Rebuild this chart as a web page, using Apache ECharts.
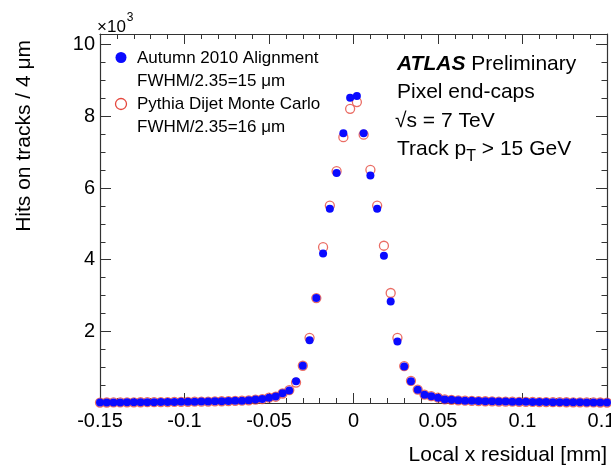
<!DOCTYPE html>
<html>
<head>
<meta charset="utf-8">
<title>Pixel end-caps local x residual</title>
<script src="https://cdn.jsdelivr.net/npm/echarts@6/dist/echarts.min.js"></script>
<style>
html, body { margin: 0; padding: 0; background: #fff; }
#main { width: 611px; height: 466px; }
</style>
</head>
<body>
<div id="main"></div>
<script>
// bin centres of the 4 um residual histogram [mm]
const binCenters = [
  -0.150, -0.146, -0.142, -0.138, -0.134, -0.130, -0.126, -0.122, -0.118, -0.114,
  -0.110, -0.106, -0.102, -0.098, -0.094, -0.090, -0.086, -0.082, -0.078, -0.074,
  -0.070, -0.066, -0.062, -0.058, -0.054, -0.050, -0.046, -0.042, -0.038, -0.034,
  -0.030, -0.026, -0.022, -0.018, -0.014, -0.010, -0.006, -0.002,
  0.002, 0.006, 0.010, 0.014, 0.018, 0.022, 0.026, 0.030, 0.034, 0.038,
  0.042, 0.046, 0.050, 0.054, 0.058, 0.062, 0.066, 0.070, 0.074, 0.078,
  0.082, 0.086, 0.090, 0.094, 0.098, 0.102, 0.106, 0.110, 0.114, 0.118,
  0.122, 0.126, 0.130, 0.134, 0.138, 0.142, 0.146, 0.150
]

// Autumn 2010 alignment (data)
const dataHits = [
  12, 14, 16, 17, 19, 20, 21, 23, 24, 26,
  28, 30, 32, 34, 36, 39, 42, 46, 50, 55,
  60, 66, 75, 95, 110, 150, 180, 270, 350, 610,
  1040, 1750, 2930, 4170, 5420, 6420, 7530, 8520,
  8570, 7530, 6350, 5420, 4110, 2830, 1720, 1020, 610, 370,
  230, 185, 150, 100, 88, 75, 66, 60, 55, 50,
  46, 42, 39, 36, 34, 32, 30, 28, 26, 24,
  23, 21, 20, 19, 17, 16, 14, 12
]

// Pythia dijet Monte Carlo
const mcHits = [
  12, 14, 15, 17, 18, 20, 21, 22, 24, 26,
  27, 29, 31, 34, 36, 38, 41, 45, 49, 54,
  60, 66, 74, 92, 108, 148, 175, 265, 360, 570,
  1040, 1820, 2930, 4350, 5510, 6470, 7420, 8210,
  8400, 7490, 6510, 5510, 4390, 3070, 1820, 1030, 620, 375,
  235, 190, 150, 102, 88, 74, 66, 59, 54, 49,
  45, 41, 38, 36, 33, 31, 29, 27, 25, 24,
  22, 21, 19, 18, 17, 15, 14, 12
]

const legendNames = ['Autumn 2010 Alignment', 'Pythia Dijet Monte Carlo']
const legendFwhm = ['FWHM/2.35=15 μm', 'FWHM/2.35=16 μm']
const infoLines = ['Pixel end-caps', '√s = 7 TeV']

const FONT = '"Liberation Sans", Arial, Helvetica, sans-serif'
const BLUE = '#0a0aff'
const RED = '#e5483e'
const FRAME = '#333'

const measureCtx = document.createElement('canvas').getContext('2d')
const textWidth = (str, size, weight) => {
  measureCtx.font = (weight || '') + ' ' + size + 'px ' + FONT
  return measureCtx.measureText(str).width
}

const zip = (xs, ys) => xs.map((x, i) => [x, ys[i]])

const xCommon = {
  type: 'value', min: -0.15, max: 0.15, interval: 0.05,
  axisLine: { show: true, onZero: false, lineStyle: { color: FRAME, width: 1.2 } },
  axisTick: { show: true, inside: true, length: 10, lineStyle: { color: FRAME } },
  minorTick: { show: true, splitNumber: 5, length: 5, lineStyle: { color: FRAME } },
  splitLine: { show: false }
}

const yCommon = (interval, len, pos, line) => ({
  type: 'value', min: 0, max: 10300, interval: interval, position: pos,
  axisLine: { show: line, onZero: false, lineStyle: { color: FRAME, width: 1.2 } },
  axisTick: { show: true, inside: true, length: len, lineStyle: { color: FRAME } },
  axisLabel: { show: false },
  splitLine: { show: false }
})

const yMain = yCommon(2000, 11, 'left', true)
yMain.axisLabel = {
  show: true, fontSize: 20, fontFamily: FONT, color: '#000', margin: 5,
  formatter: v => (v > 0 && v % 2000 === 0) ? String(v / 1000) : ''
}

// "x10^3" and "Track p_T" need sub/superscripts
const x10W = textWidth('×10', 17)
const trackW = textWidth('Track p', 21)
const subW = textWidth('T', 16)

const chart = echarts.init(document.getElementById('main'), null, { renderer: 'canvas' })

chart.setOption({
  animation: false,
  backgroundColor: '#fff',
  grid: { left: 100, right: 4, top: 34, bottom: 63, containLabel: false, outerBoundsMode: 'none' },
  xAxis: [
    Object.assign({}, xCommon, {
      position: 'bottom',
      axisLabel: { fontSize: 20, fontFamily: FONT, color: '#000', margin: 8, showMinLabel: true, showMaxLabel: true }
    }),
    Object.assign({}, xCommon, { position: 'top', axisLabel: { show: false } })
  ],
  yAxis: [
    yMain,
    yCommon(500, 5.5, 'left', false),
    yCommon(2000, 11, 'right', true),
    yCommon(500, 5.5, 'right', false)
  ],
  series: [
    {
      name: legendNames[1], type: 'scatter', clip: false,
      data: zip(binCenters, mcHits),
      symbol: 'circle', symbolSize: 9,
      itemStyle: { color: 'rgba(0,0,0,0)', borderColor: RED, borderWidth: 1.3 },
      z: 2
    },
    {
      name: legendNames[0], type: 'scatter', clip: false,
      data: zip(binCenters, dataHits),
      symbol: 'circle', symbolSize: 8,
      itemStyle: { color: BLUE, opacity: 1 },
      z: 3
    }
  ],
  graphic: [
    { type: 'text', x: 97, y: 27.5, style: { text: '×10', font: '17px ' + FONT, fill: '#000', verticalAlign: 'middle' } },
    { type: 'text', x: 97 + x10W + 1, y: 17.5, style: { text: '3', font: '12px ' + FONT, fill: '#000', verticalAlign: 'middle' } },

    { type: 'text', x: 24, y: 40, rotation: Math.PI / 2,
      style: { text: 'Hits on tracks / 4 μm', font: '21px ' + FONT, fill: '#000', align: 'right', verticalAlign: 'middle' } },
    { type: 'text', x: 607, y: 455,
      style: { text: 'Local x residual [mm]', font: '21px ' + FONT, fill: '#000', align: 'right', verticalAlign: 'middle' } },

    { type: 'circle', shape: { cx: 121, cy: 57.5, r: 5.5 }, style: { fill: BLUE } },
    { type: 'text', x: 137, y: 58, style: { text: legendNames[0], font: '17px ' + FONT, fill: '#000', verticalAlign: 'middle' } },
    { type: 'text', x: 137, y: 81, style: { text: legendFwhm[0], font: '17px ' + FONT, fill: '#000', verticalAlign: 'middle' } },
    { type: 'circle', shape: { cx: 121, cy: 104, r: 5.5 }, style: { fill: 'none', stroke: RED, lineWidth: 1.3 } },
    { type: 'text', x: 137, y: 104.5, style: { text: legendNames[1], font: '17px ' + FONT, fill: '#000', verticalAlign: 'middle' } },
    { type: 'text', x: 137, y: 127.5, style: { text: legendFwhm[1], font: '17px ' + FONT, fill: '#000', verticalAlign: 'middle' } },

    { type: 'text', x: 397, y: 64,
      style: {
        text: '{b|ATLAS} Preliminary', font: '21px ' + FONT, fill: '#000', verticalAlign: 'middle',
        rich: { b: { fontSize: 21, fontFamily: FONT, fontWeight: 'bold', fontStyle: 'italic', fill: '#000' } }
      } },
    { type: 'text', x: 397, y: 92, style: { text: infoLines[0], font: '21px ' + FONT, fill: '#000', verticalAlign: 'middle' } },
    { type: 'text', x: 395, y: 121, style: { text: infoLines[1], font: '21px ' + FONT, fill: '#000', verticalAlign: 'middle' } },
    { type: 'text', x: 397, y: 149, style: { text: 'Track p', font: '21px ' + FONT, fill: '#000', verticalAlign: 'middle' } },
    { type: 'text', x: 397 + trackW, y: 157, style: { text: 'T', font: '16px ' + FONT, fill: '#000', verticalAlign: 'middle' } },
    { type: 'text', x: 397 + trackW + subW, y: 149, style: { text: ' > 15 GeV', font: '21px ' + FONT, fill: '#000', verticalAlign: 'middle' } }
  ]
})
</script>
</body>
</html>
